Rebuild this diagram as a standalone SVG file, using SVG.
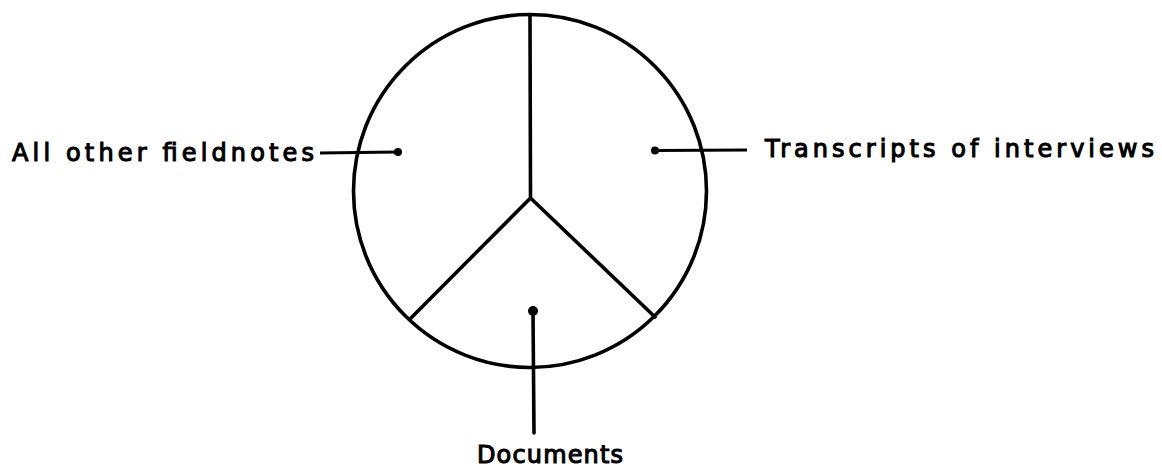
<svg xmlns="http://www.w3.org/2000/svg" width="1162" height="469" viewBox="0 0 1162 469">
<style>
.ln{stroke:#000;stroke-width:3.6;fill:none;stroke-linecap:round}
.th{stroke:#000;stroke-width:2.8;fill:none}
.lbl{font-family:"DejaVu Sans","Liberation Sans",sans-serif;font-size:24px;fill:#000;stroke:#000;stroke-width:1.1}
</style>
<rect width="1162" height="469" fill="#fff"/>
<g id="pie">
<circle class="ln" cx="530" cy="191" r="176.5"/>
<path class="ln" d="M530 15 L530.5 198 L410 319 M530.5 198 L655 317" stroke-linejoin="round"/>
</g>
<g id="connectors">
<line class="th" x1="320" y1="153" x2="398" y2="152"/>
<circle cx="398" cy="152" r="4"/>
<line class="th" x1="655" y1="150.5" x2="747" y2="150"/>
<circle cx="655" cy="150.5" r="4"/>
<line class="ln" x1="533" y1="312" x2="534" y2="433"/>
<circle cx="533" cy="311" r="5"/>
</g>
<g id="node-fieldnotes"><text class="lbl" x="12" y="161" textLength="302" lengthAdjust="spacing">All other fieldnotes</text></g>
<g id="node-transcripts"><text class="lbl" x="765" y="157" textLength="389" lengthAdjust="spacing">Transcripts of interviews</text></g>
<g id="node-documents"><text class="lbl" x="477" y="463" textLength="146" lengthAdjust="spacing">Documents</text></g>
</svg>
